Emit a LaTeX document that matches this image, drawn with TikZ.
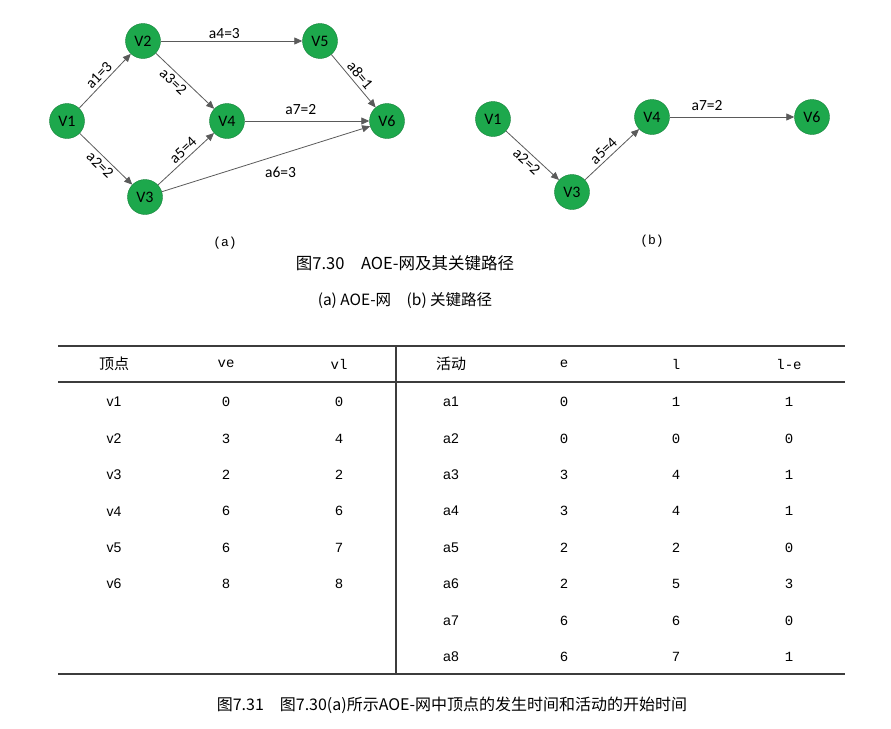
\documentclass[tikz,border=0pt]{standalone}
\usepackage{fontspec}
\setmainfont{Liberation Sans}
\newfontfamily\cjk{Noto Sans CJK SC}
\newfontfamily\vfont{Carlito}
\newfontfamily\mono{Liberation Mono}
\usetikzlibrary{arrows.meta, positioning}
\definecolor{vgreen}{RGB}{29,168,76}
\definecolor{vborder}{RGB}{20,128,58}
\definecolor{edgegray}{RGB}{90,90,90}
\definecolor{rulegray}{RGB}{60,60,60}
\tikzset{
  vertex/.style={circle, draw=vborder, fill=vgreen, minimum size=35pt,
                 inner sep=0pt, font=\vfont\fontsize{16}{16}\selectfont},
  arc/.style={-{Triangle[length=8pt, width=7pt]}, draw=edgegray, line width=0.8pt},
  wt/.style={font=\vfont\fontsize{15.5}{15.5}\selectfont, inner sep=2pt},
  figcap/.style={font=\cjk\fontsize{16}{16}\selectfont},
  sub/.style={font=\mono\fontsize{13}{13}\selectfont},
  hcell/.style={font=\mono\fontsize{14}{14}\selectfont},
  hcjk/.style={font=\cjk\fontsize{15}{15}\selectfont},
  ncell/.style={font=\fontsize{14}{14}\selectfont},
  dcell/.style={font=\mono\fontsize{14}{14}\selectfont},
  rule/.style={draw=rulegray, line width=2pt},
}

\begin{document}
\begin{tikzpicture}[x=1pt, y=-1pt, on grid]

  \useasboundingbox (0,0) rectangle (891,728);

  % =====================================================
  % (a) AOE NETWORK
  % =====================================================

  \node[vertex] (v1) at (67,121) {V1};

  \node[vertex, above right=80pt and 76pt of v1]
    (v2) {V2};

  \node[vertex, below right=76pt and 78pt of v1]
    (v3) {V3};

  \node[vertex, right=160pt of v1]
    (v4) {V4};

  \node[vertex, right=177pt of v2]
    (v5) {V5};

  \node[vertex, right=160pt of v4]
    (v6) {V6};

  \draw[arc]
    (v1) -- node[wt, sloped, above=1pt]{a1=3} (v2);

  \draw[arc]
    (v1) -- node[wt, sloped, below=1pt]{a2=2} (v3);

  \draw[arc]
    (v2) -- node[wt, sloped, below=1pt, pos=0.4]{a3=2} (v4);

  \draw[arc]
    (v2) -- node[wt, above, pos=0.45]{a4=3} (v5);

  \draw[arc]
    (v3) -- node[wt, sloped, above=1pt, pos=0.55]{a5=4} (v4);

  \draw[arc]
    (v3) -- node[wt, below=10pt, pos=0.57]{a6=3} (v6);

  \draw[arc]
    (v4) -- node[wt, above=4pt, pos=0.45]{a7=2} (v6);

  \draw[arc]
    (v5) -- node[wt, sloped, above=1pt]{a8=1} (v6);

  \node[sub] (suba) at (225,243) {(a)};


  % =====================================================
  % (b) CRITICAL PATH
  % =====================================================

  \node[vertex] (w1) at (493,119) {V1};

  \node[vertex, below right=73pt and 79pt of w1]
    (w3) {V3};

  \node[vertex, above right=75pt and 80pt of w3]
    (w4) {V4};

  \node[vertex, right=160pt of w4]
    (w6) {V6};

  \draw[arc]
    (w1) -- node[wt, sloped, below=1pt]{a2=2} (w3);

  \draw[arc]
    (w3) -- node[wt, sloped, above=1pt, pos=0.45]{a5=4} (w4);

  \draw[arc]
    (w4) -- node[wt, above=4pt, pos=0.3]{a7=2} (w6);

  \node[sub] (subb) at (652,241) {(b)};


  % =====================================================
  % CAPTIONS
  % =====================================================

  \node[figcap, font=\cjk\fontsize{16.5}{16.5}\selectfont]
    (cap730) at (405,263) {图7.30\quad AOE-网及其关键路径};

  \node[figcap, font=\cjk\fontsize{15.5}{15.5}\selectfont]
    (cap730sub) at (405,300) {(a) AOE-网\quad (b) 关键路径};


  % =====================================================
  % TABLE
  % =====================================================

  \coordinate (ttl) at (58,346);
  \coordinate (ttr) at (845,346);
  \coordinate (thl) at (58,382);
  \coordinate (thr) at (845,382);
  \coordinate (tbl) at (58,674);
  \coordinate (tbr) at (845,674);
  \coordinate (tvt) at (396,346);
  \coordinate (tvb) at (396,674);

  \draw[rule] (ttl) -- (ttr);
  \draw[rule] (thl) -- (thr);
  \draw[rule] (tbl) -- (tbr);
  \draw[rule] (tvt) -- (tvb);

  \node[hcjk]  (h1) at (114,364) {顶点};
  \node[hcell] (h2) at (226,364) {ve};
  \node[hcell] (h3) at (339,364) {vl};
  \node[hcjk]  (h4) at (451,364) {活动};
  \node[hcell] (h5) at (564,364) {e};
  \node[hcell] (h6) at (676,364) {l};
  \node[hcell] (h7) at (789,364) {l-e};

  \foreach \n/\ve/\vl [count=\i from 0] in
    {v1/0/0, v2/3/4, v3/2/2, v4/6/6, v5/6/7, v6/8/8} {
    \node[ncell] (vn\i) at (114,402+\i*36.4) {\n};
    \node[dcell] (ve\i) at (226,402+\i*36.4) {\ve};
    \node[dcell] (vl\i) at (339,402+\i*36.4) {\vl};
  }

  \foreach \n/\e/\l/\d [count=\i from 0] in
    {a1/0/1/1, a2/0/0/0, a3/3/4/1, a4/3/4/1,
     a5/2/2/0, a6/2/5/3, a7/6/6/0, a8/6/7/1} {
    \node[ncell] (an\i) at (451,402+\i*36.4) {\n};
    \node[dcell] (ae\i) at (564,402+\i*36.4) {\e};
    \node[dcell] (al\i) at (676,402+\i*36.4) {\l};
    \node[dcell] (ad\i) at (789,402+\i*36.4) {\d};
  }

  \node[figcap]
    (cap731) at (452,705) {图7.31\quad 图7.30(a)所示AOE-网中顶点的发生时间和活动的开始时间};

\end{tikzpicture}
\end{document}
